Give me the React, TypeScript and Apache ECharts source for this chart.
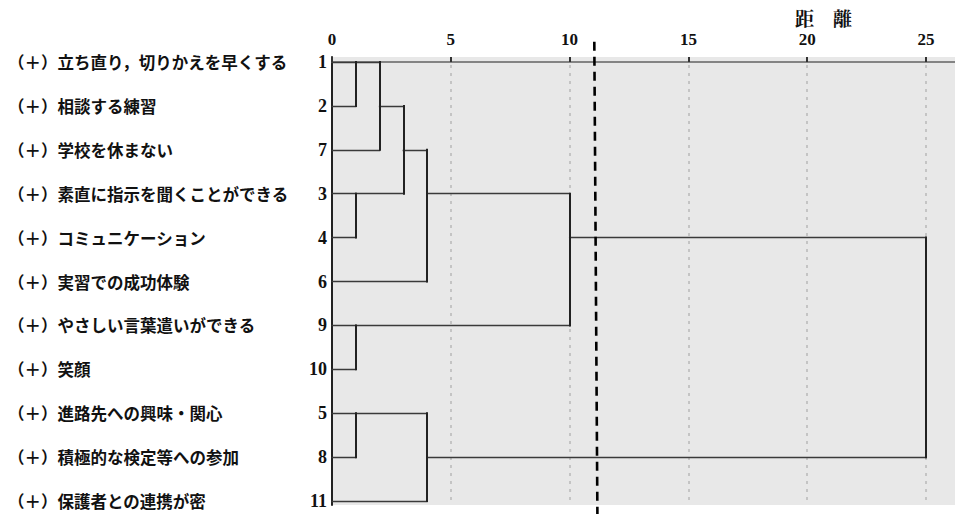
import React, { useEffect, useRef } from "react";
import * as echarts from "echarts";

// Leaves in dendrogram order (top to bottom)
const leafIds = ["1", "2", "7", "3", "4", "6", "9", "10", "5", "8", "11"];
const leafNames = [
  "（＋）立ち直り，切りかえを早くする",
  "（＋）相談する練習",
  "（＋）学校を休まない",
  "（＋）素直に指示を聞くことができる",
  "（＋）コミュニケーション",
  "（＋）実習での成功体験",
  "（＋）やさしい言葉遣いができる",
  "（＋）笑顔",
  "（＋）進路先への興味・関心",
  "（＋）積極的な検定等への参加",
  "（＋）保護者との連携が密",
];
// merges: [clusterA, clusterB, distance]; leaves are 0..10, new clusters numbered from 11
const merges: [number, number, number][] = [
  [0, 1, 1],
  [3, 4, 1],
  [6, 7, 1],
  [8, 9, 1],
  [11, 2, 2],
  [15, 12, 3],
  [16, 5, 4],
  [14, 10, 4],
  [17, 13, 10],
  [19, 18, 25],
];
const xTicks = [0, 5, 10, 15, 20, 25];
const cutLine: [number, number][] = [
  [11.04, -0.46],
  [11.17, 10.3],
];

function buildSegments() {
  const rows: number[] = leafIds.map((_, i) => i);
  const heights: number[] = leafIds.map(() => 0);
  const hSegs: { coords: number[][] }[] = [];
  const vSegs: { coords: number[][] }[] = [];
  merges.forEach(([a, b, d]) => {
    hSegs.push({ coords: [[heights[a], rows[a]], [d, rows[a]]] });
    hSegs.push({ coords: [[heights[b], rows[b]], [d, rows[b]]] });
    vSegs.push({ coords: [[d, rows[a]], [d, rows[b]]] });
    rows.push(Math.floor((rows[a] + rows[b]) / 2));
    heights.push(d);
  });
  return { hSegs, vSegs };
}

export default function App() {
  const ref = useRef<HTMLDivElement>(null);
  useEffect(() => {
    if (!ref.current) return;
    const chart = echarts.init(ref.current, null, { renderer: "svg" });
    const { hSegs, vSegs } = buildSegments();
    const rowIdx = leafIds.map((_, i) => i);
    const serif = "'Liberation Serif', 'DejaVu Serif', serif";
    chart.setOption({
      animation: false,
      backgroundColor: "#ffffff",
      title: {
        text: "距　離",
        left: 795,
        top: 7,
        padding: 0,
        textStyle: { fontFamily: "'Noto Serif CJK JP', 'Noto Sans CJK JP', serif", fontSize: 19, fontWeight: "bold", color: "#111", lineHeight: 20 },
      },
      grid: {
        left: 332,
        right: 0,
        top: 57,
        bottom: 9,
        show: true,
        backgroundColor: "#e8e8e8",
        borderWidth: 0,
      },
      xAxis: [
        {
          type: "value",
          position: "top",
          min: 0,
          max: 26.22,
          interval: 5,
          axisLine: { show: true, lineStyle: { color: "#555", width: 1.5 } },
          axisTick: { show: true, length: 5, customValues: xTicks, lineStyle: { color: "#333", width: 2 } },
          axisLabel: {
            customValues: xTicks,
            margin: 10,
            fontFamily: serif,
            fontSize: 17,
            lineHeight: 16,
            fontWeight: "bold",
            color: "#111",
          },
          splitLine: { show: true, lineStyle: { color: "#c4c4c4", width: 2, type: [3, 5] } },
        },
        {
          type: "value",
          position: "bottom",
          min: 0,
          max: 26.22,
          axisLine: { show: true, lineStyle: { color: "#888", width: 1.5 } },
          axisTick: { show: false },
          axisLabel: { show: false },
          splitLine: { show: false },
        },
      ],
      yAxis: [
        {
          type: "value",
          inverse: true,
          min: -0.114,
          max: 10.09,
          axisLine: { show: true, lineStyle: { color: "#222", width: 2 } },
          axisTick: { show: false },
          splitLine: { show: false },
          axisLabel: {
            customValues: rowIdx,
            margin: 5,
            formatter: (v: number) => leafIds[Math.round(v)] ?? "",
            fontFamily: serif,
            fontSize: 18,
            fontWeight: "bold",
            color: "#111",
          },
        },
        {
          type: "value",
          inverse: true,
          position: "left",
          min: -0.114,
          max: 10.09,
          axisLine: { show: false },
          axisTick: { show: false },
          splitLine: { show: false },
          axisLabel: {
            customValues: rowIdx,
            margin: 324,
            align: "left",
            formatter: (v: number) => leafNames[Math.round(v)] ?? "",
            fontFamily: "'Noto Sans CJK JP', sans-serif",
            fontSize: 16.5,
            fontWeight: "bold",
            color: "#111",
          },
        },
      ],
      series: [
        {
          type: "lines",
          coordinateSystem: "cartesian2d",
          xAxisIndex: 0,
          yAxisIndex: 0,
          data: hSegs,
          lineStyle: { color: "#3a3a3a", width: 1.3, opacity: 1, cap: "square" },
          silent: true,
        },
        {
          type: "lines",
          coordinateSystem: "cartesian2d",
          xAxisIndex: 0,
          yAxisIndex: 0,
          data: vSegs,
          lineStyle: { color: "#222", width: 2, opacity: 1, cap: "square" },
          silent: true,
        },
        {
          type: "lines",
          coordinateSystem: "cartesian2d",
          xAxisIndex: 0,
          yAxisIndex: 0,
          clip: false,
          data: [{ coords: cutLine }],
          lineStyle: { color: "#000", width: 2.6, type: [9, 6], opacity: 1 },
          silent: true,
          z: 5,
        },
      ],
    });
    return () => chart.dispose();
  }, []);
  return (
    <div
      ref={ref}
      style={{ position: "fixed", left: 0, top: 0, width: 955, height: 514 }}
    />
  );
}
